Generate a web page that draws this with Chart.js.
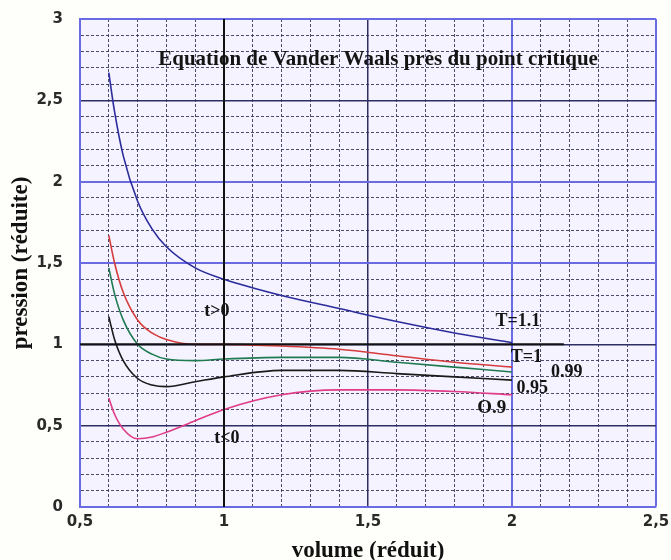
<!DOCTYPE html>
<html>
<head>
<meta charset="utf-8">
<script src="https://cdn.jsdelivr.net/npm/chart.js@4/dist/chart.umd.min.js"></script>
<style>
  html, body { margin: 0; padding: 0; background: #fefefa; }
  #wrap { width: 671px; height: 560px; }
</style>
</head>
<body>
<div id="wrap"><canvas id="vdw" width="671" height="560"></canvas></div>
<script>
// reduced volume sampled along every isotherm
const volumes = [0.6, 0.62, 0.65, 0.7, 0.75, 0.8, 0.9, 1.0, 1.2, 1.4, 1.6, 1.8, 2.0];

// reduced pressure for each isotherm
const pT110 = [2.67, 2.43, 2.16, 1.88, 1.71, 1.60, 1.47, 1.40, 1.30, 1.22, 1.14, 1.07, 1.01];
const pT100 = [1.67, 1.50, 1.32, 1.15, 1.07, 1.03, 1.00, 1.00, 0.99, 0.97, 0.93, 0.89, 0.86];
const pT099 = [1.47, 1.31, 1.15, 1.00, 0.94, 0.91, 0.90, 0.91, 0.92, 0.92, 0.89, 0.86, 0.83];
const pT095 = [1.17, 1.03, 0.90, 0.79, 0.75, 0.74, 0.77, 0.80, 0.84, 0.84, 0.82, 0.80, 0.78];
const pT090 = [0.67, 0.57, 0.48, 0.42, 0.43, 0.46, 0.53, 0.60, 0.69, 0.72, 0.72, 0.71, 0.69];

// reference lines p = 1 and v = 1
const critPressX = [0.5, 2.18];
const critPressY = [1, 1];
const critVolX = [1, 1];
const critVolY = [0, 3];

// axes
const xMin = 0.5, xMax = 2.5;
const yMin = 0, yMax = 3;
const tickStep = 0.1;

// text written on the plot
const notes = [
  { text: "Equation de Vander Waals près du point critique", v: 1.535, p: 2.75, size: 21 },
  { text: "t>0", v: 0.975, p: 1.20, size: 18 },
  { text: "t<0", v: 1.01, p: 0.42, size: 18 },
  { text: "T=1.1", v: 2.02, p: 1.14, size: 18 },
  { text: "T=1", v: 2.05, p: 0.92, size: 18 },
  { text: "0.99", v: 2.19, p: 0.83, size: 18 },
  { text: "0.95", v: 2.07, p: 0.73, size: 18 },
  { text: "O.9", v: 1.93, p: 0.61, size: 19 },
];

const isHalf = v => Math.abs(v * 2 - Math.round(v * 2)) < 1e-6;
const near = (v, list) => list.some(k => Math.abs(v - k) < 1e-6);
const frLabel = v => String(Math.round(v * 10) / 10).replace(".", ",");

const xBlue = [2, 2.5];
const yBlue = [1.5, 2, 3];

function pts(xs, ys) {
  return xs.map((x, i) => ({ x: x, y: ys[i] }));
}

function curve(values, color) {
  return {
    data: pts(volumes, values),
    borderColor: color,
    borderWidth: 1.6,
    pointRadius: 0,
    showLine: true,
    cubicInterpolationMode: "monotone",
  };
}

function gridColor(blues) {
  return ctx => {
    if (!ctx.tick) return "#555";
    const v = ctx.tick.value;
    if (near(v, blues)) return "#6a6ae2";
    if (isHalf(v)) return "#2e2e62";
    return "rgba(45,45,80,0.85)";
  };
}

function gridWidth(blues) {
  return ctx => {
    if (!ctx.tick) return 1;
    const v = ctx.tick.value;
    if (near(v, blues)) return 2;
    if (isHalf(v)) return 1.5;
    return 1;
  };
}

const gridDash = ctx => (ctx.tick && !isHalf(ctx.tick.value)) ? [3, 2] : [];

const tickFont = { family: "'DejaVu Sans', sans-serif", size: 15, weight: "bold" };
const titleFont = { family: "'Liberation Serif', 'Times New Roman', serif", size: 23, weight: "bold", lineHeight: 1 };

const paper = {
  id: "paper",
  beforeDraw(chart) {
    const { ctx, chartArea: a } = chart;
    ctx.save();
    ctx.fillStyle = "#f4f3ff";
    ctx.fillRect(a.left, a.top, a.width, a.height);
    ctx.restore();
  },
  afterDatasetsDraw(chart) {
    const { ctx, scales } = chart;
    ctx.save();
    ctx.fillStyle = "#141414";
    ctx.textAlign = "center";
    ctx.textBaseline = "middle";
    notes.forEach(n => {
      ctx.font = "bold " + n.size + "px 'Liberation Serif', 'Times New Roman', serif";
      ctx.fillText(n.text, scales.x.getPixelForValue(n.v), scales.y.getPixelForValue(n.p));
    });
    ctx.restore();
  },
};

new Chart(document.getElementById("vdw"), {
  type: "scatter",
  data: {
    datasets: [
      {
        data: pts(critPressX, critPressY),
        borderColor: "#111",
        borderWidth: 2,
        pointRadius: 0,
        showLine: true,
        tension: 0,
      },
      {
        data: pts(critVolX, critVolY),
        borderColor: "#111",
        borderWidth: 2,
        pointRadius: 0,
        showLine: true,
        tension: 0,
      },
      curve(pT110, "#2b2b9c"),
      curve(pT100, "#d63c3c"),
      curve(pT099, "#1f7a50"),
      curve(pT095, "#1a1a1a"),
      curve(pT090, "#e03c88"),
    ],
  },
  options: {
    responsive: false,
    animation: false,
    devicePixelRatio: 1,
    layout: { padding: { left: 0, right: 15, top: 19, bottom: 0 } },
    plugins: {
      legend: { display: false },
      tooltip: { enabled: false },
    },
    scales: {
      x: {
        type: "linear",
        min: xMin,
        max: xMax,
        afterFit: s => {
          s.height = 53;
          s.paddingLeft = 0;
          s.paddingRight = 0;
        },
        ticks: {
          stepSize: tickStep,
          autoSkip: false,
          maxRotation: 0,
          padding: 6,
          color: "#2a2a2a",
          font: tickFont,
          callback: v => isHalf(v) ? frLabel(v) : "",
        },
        grid: {
          drawTicks: false,
          color: gridColor(xBlue),
          lineWidth: gridWidth(xBlue),
        },
        border: { display: true, color: "#6a6ae2", width: 2, dash: gridDash },
        title: {
          display: true,
          text: "volume (réduit)",
          color: "#111",
          font: Object.assign({}, titleFont, { lineHeight: 0.75 }),
          padding: { top: 0, bottom: 0 },
        },
      },
      y: {
        type: "linear",
        min: yMin,
        max: yMax,
        afterFit: s => {
          s.width = 80;
          s.paddingTop = 0;
          s.paddingBottom = 0;
        },
        ticks: {
          stepSize: tickStep,
          autoSkip: false,
          padding: 17,
          color: "#2a2a2a",
          font: tickFont,
          callback: v => isHalf(v) ? frLabel(v) : "",
        },
        grid: {
          drawTicks: false,
          color: gridColor(yBlue),
          lineWidth: gridWidth(yBlue),
        },
        border: { display: true, color: "#6a6ae2", width: 2, dash: gridDash },
        title: {
          display: true,
          text: "pression (réduite)",
          color: "#111",
          font: titleFont,
          padding: { top: 10, bottom: 0 },
        },
      },
    },
  },
  plugins: [paper],
});
</script>
</body>
</html>
